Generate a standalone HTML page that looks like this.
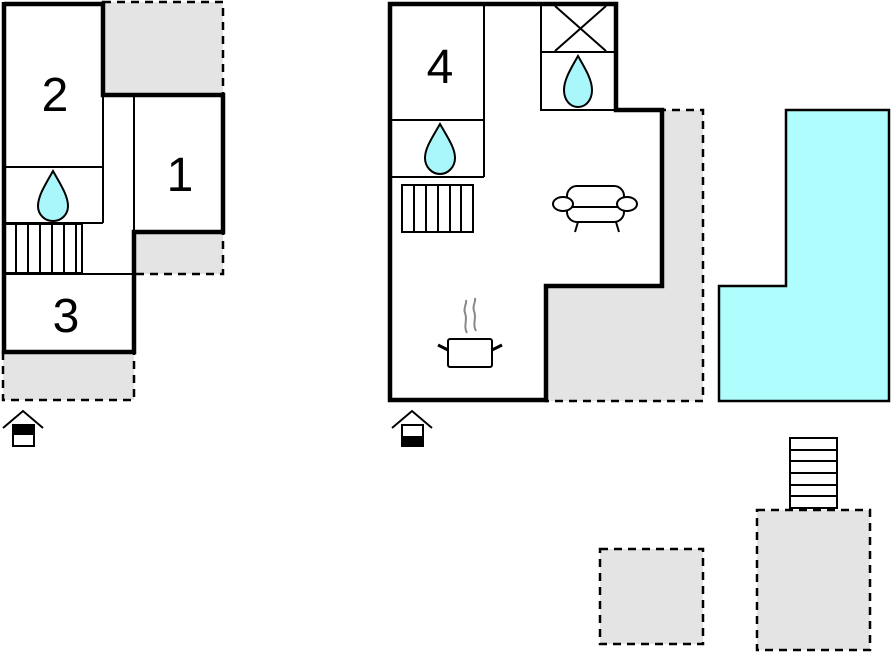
<!DOCTYPE html>
<html><head><style>html,body{margin:0;padding:0;background:#fff;}svg{display:block}</style></head><body>
<svg width="891" height="652" viewBox="0 0 891 652" xmlns="http://www.w3.org/2000/svg" font-family="Liberation Sans, sans-serif">
<g fill="#e4e4e4" stroke="#000" stroke-width="2.5" stroke-dasharray="8,6">
<rect x="103" y="2" width="120" height="93"/>
<rect x="134" y="232" width="89" height="42"/>
<rect x="3" y="352" width="131" height="48"/>
<path d="M616 110 H703 V401 H546 V286 H662 V110 Z"/>
<rect x="600" y="549" width="103" height="95"/>
<rect x="757" y="510" width="113" height="140"/>
</g>
<!-- left building -->
<path d="M4 2 V352 H134 V232 H223 V95 H103 V4 H4" fill="#fff" stroke="none"/>
<g stroke="#000" stroke-width="2" fill="none">
<line x1="4" y1="167" x2="103" y2="167"/>
<line x1="4" y1="223" x2="103" y2="223"/>
<line x1="103" y1="95" x2="103" y2="223"/>
<line x1="134" y1="95" x2="134" y2="232"/>
<line x1="4" y1="274" x2="134" y2="274"/>
<rect x="5" y="224" width="77" height="49"/>
<line x1="16" y1="224" x2="16" y2="273"/><line x1="28" y1="224" x2="28" y2="273"/><line x1="40" y1="224" x2="40" y2="273"/><line x1="52" y1="224" x2="52" y2="273"/><line x1="64" y1="224" x2="64" y2="273"/><line x1="76" y1="224" x2="76" y2="273"/>
</g>
<path d="M4 2 V352 H134 V232 H223 V95 H103 V4 H4" fill="none" stroke="#000" stroke-width="4.5"/>
<text x="55" y="111" font-size="48" text-anchor="middle">2</text>
<text x="180" y="191" font-size="48" text-anchor="middle">1</text>
<text x="66" y="332" font-size="48" text-anchor="middle">3</text>
<path d="M53 171 C45 185 38 196 38 206 C38 215 45 221 53 221 C61 221 68 215 68 206 C68 196 61 185 53 171 Z" fill="#a9f7fb" stroke="#000" stroke-width="2"/>
<!-- middle building -->
<path d="M390 4 H616 V110 H662 V286 H546 V400 H390 Z" fill="#fff" stroke="none"/>
<g stroke="#000" stroke-width="2" fill="none">
<line x1="484" y1="4" x2="484" y2="177"/>
<line x1="390" y1="120" x2="484" y2="120"/>
<line x1="390" y1="177" x2="484" y2="177"/>
<rect x="541" y="4" width="75" height="106"/>
<line x1="541" y1="52" x2="616" y2="52"/>
<line x1="555" y1="6" x2="606" y2="51"/><line x1="555" y1="51" x2="606" y2="6"/>
<rect x="402" y="185" width="71" height="47"/>
<line x1="414" y1="185" x2="414" y2="232"/><line x1="426" y1="185" x2="426" y2="232"/><line x1="438" y1="185" x2="438" y2="232"/><line x1="450" y1="185" x2="450" y2="232"/><line x1="461" y1="185" x2="461" y2="232"/>
</g>
<path d="M390 4 H616 V110 H662 V286 H546 V400 H390 Z" fill="none" stroke="#000" stroke-width="4.5"/>
<text x="440" y="83" font-size="48" text-anchor="middle">4</text>
<path d="M440 124 C432 138 425 148 425 158 C425 167 432 174 440 174 C448 174 455 167 455 158 C455 148 448 138 440 124 Z" fill="#a9f7fb" stroke="#000" stroke-width="2"/>
<path d="M578 56 C570 70 564 80 564 90 C564 100 570 107 578 107 C586 107 592 100 592 90 C592 80 586 70 578 56 Z" fill="#a9f7fb" stroke="#000" stroke-width="2"/>
<!-- sofa -->
<g stroke="#000" stroke-width="2" fill="#fff">
<rect x="567" y="186" width="57" height="36" rx="10"/>
<line x1="570" y1="207" x2="622" y2="207"/>
<ellipse cx="563" cy="204" rx="10" ry="7"/>
<ellipse cx="627" cy="204" rx="10" ry="7"/>
<line x1="578" y1="222" x2="575" y2="232"/><line x1="616" y1="222" x2="619" y2="232"/>
</g>
<!-- pot -->
<g stroke="#000" stroke-width="2" fill="#fff">
<rect x="448" y="339" width="44" height="28" rx="2"/>
<line x1="448" y1="350" x2="438" y2="345" stroke-width="3"/>
<line x1="492" y1="350" x2="502" y2="345" stroke-width="3"/>
</g>
<g stroke="#888" stroke-width="2" fill="none">
<path d="M467 333 C463 326 468 320 465 313 C463 308 467 304 466 300"/>
<path d="M476 331 C472 324 477 318 474 311 C472 306 476 302 475 298"/>
</g>
<!-- entrances -->
<g stroke="#000" stroke-width="2" fill="none">
<path d="M3 428 L23 411 L43 428"/>
<rect x="13" y="425" width="21" height="21" fill="#fff"/>
<path d="M392 428 L412 411 L432 428"/>
<rect x="402" y="425" width="21" height="21" fill="#fff"/>
</g>
<rect x="13" y="425" width="21" height="10" fill="#000"/>
<rect x="402" y="436" width="21" height="10" fill="#000"/>
<!-- pool -->
<path d="M786 110 H889 V401 H719 V286 H786 Z" fill="#b0fdfe" stroke="#000" stroke-width="2.5"/>
<g stroke="#000" stroke-width="2" fill="#fff">
<rect x="790" y="438" width="47" height="70"/>
<line x1="790" y1="450" x2="837" y2="450"/><line x1="790" y1="461" x2="837" y2="461"/><line x1="790" y1="473" x2="837" y2="473"/><line x1="790" y1="485" x2="837" y2="485"/><line x1="790" y1="496" x2="837" y2="496"/>
</g>
</svg>
</body></html>
